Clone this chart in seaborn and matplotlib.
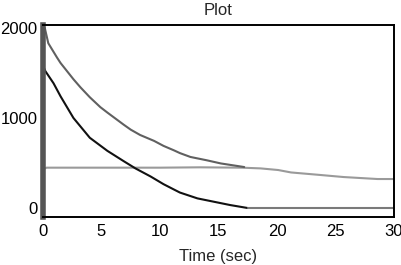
import numpy as np
import pandas as pd
import seaborn as sns
import matplotlib
matplotlib.use('Agg')
import matplotlib.pyplot as plt

# series
t_upper = [0, 0.15, 0.45, 1.2, 1.5, 2.6, 3.2, 4.0, 4.9, 5.5, 6.9, 7.5, 8.3, 9.5,
           10.3, 11.2, 11.7, 12.6, 14.0, 15.2, 16.6, 17.2]
upper = [1900, 2000, 1830, 1670, 1610, 1430, 1340, 1230, 1120, 1060, 925, 870, 811, 745,
         690, 640, 610, 567, 530, 495, 467, 455]

t_lower = [0, 0.2, 0.9, 1.5, 2.6, 4.0, 5.5, 6.9, 7.9, 9.2, 10.3, 11.2, 11.7, 13.2, 14.6, 16.0, 17.5]
lower = [1580, 1520, 1385, 1240, 1000, 780, 635, 520, 440, 350, 265, 205, 172, 107, 70, 33, 0]

t_tail = [17.5, 30]
tail = [0, 0]

t_flat = [0, 0.3, 5, 10, 13.4, 17, 18.6, 20.1, 21.2, 23.7, 25.7, 28.6, 30]
flat = [430, 448, 448, 448, 452, 448, 440, 422, 395, 367, 344, 322, 322]

x_ticks = [0, 5, 10, 15, 20, 25, 30]
y_ticks = [0, 1000, 2000]

sns.set_style('white')
plt.rcParams['font.family'] = ['Liberation Sans', 'DejaVu Sans']

fig = plt.figure(figsize=(4.02, 2.65), dpi=100)
ax = fig.add_axes([0.107, 0.181, 0.873, 0.725])

sns.lineplot(x=t_flat, y=flat, ax=ax, color='#9a9a9a', linewidth=1.5)
sns.lineplot(x=t_upper, y=upper, ax=ax, color='#606060', linewidth=1.5)
sns.lineplot(x=t_lower, y=lower, ax=ax, color='#111111', linewidth=1.5)
sns.lineplot(x=t_tail, y=tail, ax=ax, color='#7a7a7a', linewidth=1.5)

ax.set_xlim(0, 30)
ax.set_ylim(-100, 2033)
ax.set_xticks(x_ticks)
ax.set_yticks(y_ticks)
ax.tick_params(direction='in', length=6, width=1.2, colors='black', labelsize=12)
ax.tick_params(axis='x', pad=5)
ax.tick_params(axis='y', pad=4)
for s in ['top', 'right', 'bottom']:
    ax.spines[s].set_color('black')
    ax.spines[s].set_linewidth(1.4)
ax.spines['left'].set_color('#555555')
ax.spines['left'].set_linewidth(4)

ax.set_title('Plot', fontsize=12, pad=7)
ax.set_xlabel('Time (sec)', fontsize=12, labelpad=7)
ax.set_ylabel('')

plt.savefig('out.png', dpi=100)
plt.close()
